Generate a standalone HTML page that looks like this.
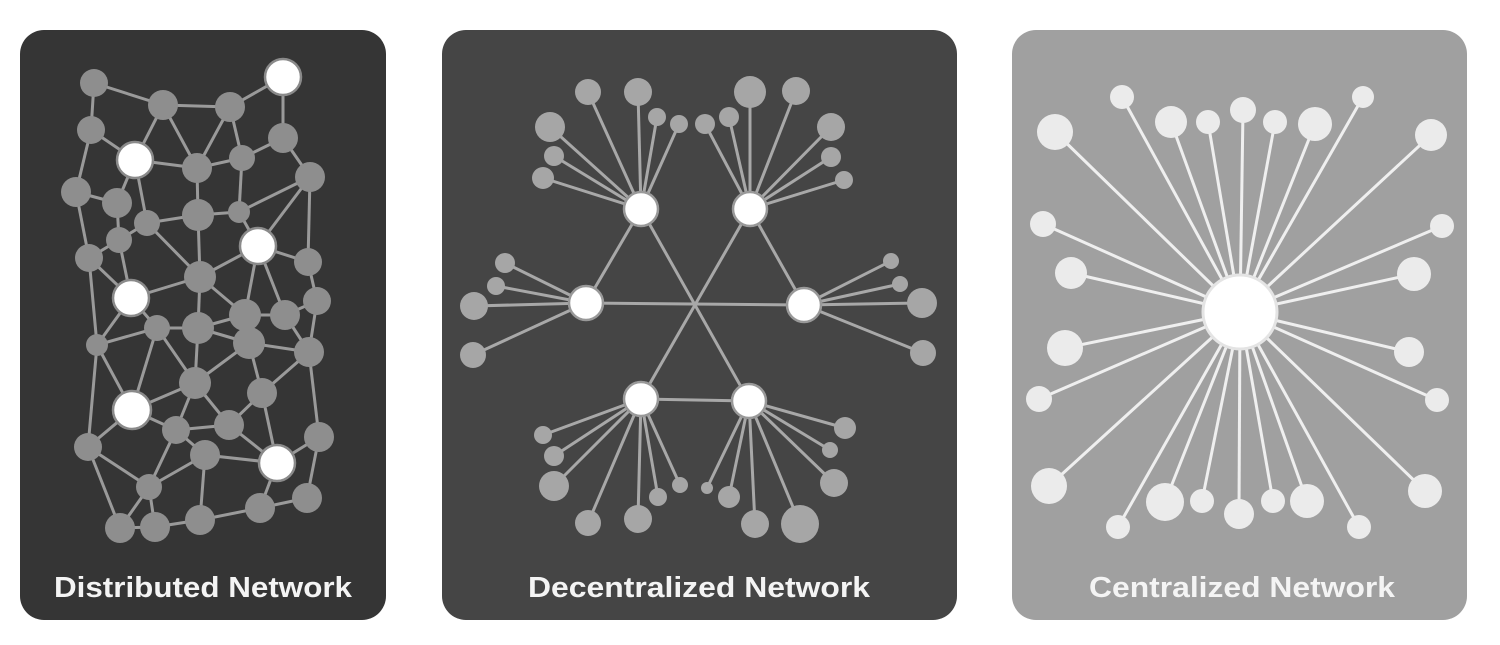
<!DOCTYPE html>
<html><head><meta charset="utf-8"><style>
html,body{margin:0;padding:0;background:#fff}
svg{display:block}
text{font-family:"Liberation Sans",sans-serif;font-weight:bold;fill:#f4f4f4}
</style></head><body>
<svg width="1500" height="645" viewBox="0 0 1500 645" xmlns="http://www.w3.org/2000/svg">
<rect width="1500" height="645" fill="#fff"/>
<rect x="20" y="30" width="366" height="590" rx="24" fill="#353535"/>
<rect x="442" y="30" width="515" height="590" rx="24" fill="#454545"/>
<rect x="1012" y="30" width="455" height="590" rx="24" fill="#a0a0a0"/>
<g stroke="#9a9a9a" stroke-width="3">
<line x1="94" y1="83" x2="163" y2="105"/><line x1="94" y1="83" x2="91" y2="130"/>
<line x1="163" y1="105" x2="230" y2="107"/><line x1="230" y1="107" x2="283" y2="77"/>
<line x1="283" y1="77" x2="283" y2="138"/><line x1="163" y1="105" x2="135" y2="160"/>
<line x1="163" y1="105" x2="197" y2="168"/><line x1="230" y1="107" x2="197" y2="168"/>
<line x1="230" y1="107" x2="242" y2="158"/><line x1="91" y1="130" x2="135" y2="160"/>
<line x1="91" y1="130" x2="76" y2="192"/><line x1="135" y1="160" x2="197" y2="168"/>
<line x1="197" y1="168" x2="242" y2="158"/><line x1="242" y1="158" x2="283" y2="138"/>
<line x1="283" y1="138" x2="310" y2="177"/><line x1="197" y1="168" x2="198" y2="215"/>
<line x1="242" y1="158" x2="239" y2="212"/><line x1="310" y1="177" x2="239" y2="212"/>
<line x1="310" y1="177" x2="258" y2="246"/><line x1="310" y1="177" x2="308" y2="262"/>
<line x1="135" y1="160" x2="147" y2="223"/><line x1="135" y1="160" x2="117" y2="203"/>
<line x1="76" y1="192" x2="117" y2="203"/><line x1="76" y1="192" x2="89" y2="258"/>
<line x1="117" y1="203" x2="119" y2="240"/><line x1="147" y1="223" x2="198" y2="215"/>
<line x1="147" y1="223" x2="200" y2="277"/><line x1="119" y1="240" x2="147" y2="223"/>
<line x1="119" y1="240" x2="89" y2="258"/><line x1="119" y1="240" x2="131" y2="298"/>
<line x1="198" y1="215" x2="200" y2="277"/><line x1="198" y1="215" x2="239" y2="212"/>
<line x1="239" y1="212" x2="258" y2="246"/><line x1="258" y1="246" x2="200" y2="277"/>
<line x1="258" y1="246" x2="308" y2="262"/><line x1="258" y1="246" x2="245" y2="315"/>
<line x1="258" y1="246" x2="285" y2="315"/><line x1="308" y1="262" x2="317" y2="301"/>
<line x1="89" y1="258" x2="131" y2="298"/><line x1="89" y1="258" x2="97" y2="345"/>
<line x1="131" y1="298" x2="200" y2="277"/><line x1="131" y1="298" x2="157" y2="328"/>
<line x1="131" y1="298" x2="97" y2="345"/><line x1="200" y1="277" x2="198" y2="328"/>
<line x1="200" y1="277" x2="245" y2="315"/><line x1="157" y1="328" x2="198" y2="328"/>
<line x1="97" y1="345" x2="157" y2="328"/><line x1="198" y1="328" x2="245" y2="315"/>
<line x1="198" y1="328" x2="249" y2="343"/><line x1="245" y1="315" x2="285" y2="315"/>
<line x1="285" y1="315" x2="317" y2="301"/><line x1="285" y1="315" x2="309" y2="352"/>
<line x1="249" y1="343" x2="309" y2="352"/><line x1="317" y1="301" x2="309" y2="352"/>
<line x1="157" y1="328" x2="132" y2="410"/><line x1="157" y1="328" x2="195" y2="383"/>
<line x1="97" y1="345" x2="88" y2="447"/><line x1="97" y1="345" x2="132" y2="410"/>
<line x1="198" y1="328" x2="195" y2="383"/><line x1="195" y1="383" x2="249" y2="343"/>
<line x1="249" y1="343" x2="262" y2="393"/><line x1="309" y1="352" x2="262" y2="393"/>
<line x1="309" y1="352" x2="319" y2="437"/><line x1="195" y1="383" x2="132" y2="410"/>
<line x1="195" y1="383" x2="176" y2="430"/><line x1="195" y1="383" x2="229" y2="425"/>
<line x1="132" y1="410" x2="88" y2="447"/><line x1="176" y1="430" x2="229" y2="425"/>
<line x1="176" y1="430" x2="149" y2="487"/><line x1="229" y1="425" x2="262" y2="393"/>
<line x1="229" y1="425" x2="277" y2="463"/><line x1="262" y1="393" x2="277" y2="463"/>
<line x1="205" y1="455" x2="176" y2="430"/><line x1="205" y1="455" x2="149" y2="487"/>
<line x1="205" y1="455" x2="277" y2="463"/><line x1="205" y1="455" x2="200" y2="520"/>
<line x1="277" y1="463" x2="319" y2="437"/><line x1="319" y1="437" x2="307" y2="498"/>
<line x1="307" y1="498" x2="260" y2="508"/><line x1="260" y1="508" x2="277" y2="463"/>
<line x1="88" y1="447" x2="149" y2="487"/><line x1="88" y1="447" x2="120" y2="528"/>
<line x1="149" y1="487" x2="120" y2="528"/><line x1="149" y1="487" x2="155" y2="527"/>
<line x1="155" y1="527" x2="200" y2="520"/><line x1="200" y1="520" x2="260" y2="508"/>
<line x1="120" y1="528" x2="155" y2="527"/><line x1="132" y1="410" x2="176" y2="430"/>
</g>
<g fill="#8e8e8e">
<circle cx="94" cy="83" r="14"/><circle cx="163" cy="105" r="15"/><circle cx="230" cy="107" r="15"/>
<circle cx="91" cy="130" r="14"/><circle cx="197" cy="168" r="15"/><circle cx="242" cy="158" r="13"/>
<circle cx="283" cy="138" r="15"/><circle cx="310" cy="177" r="15"/><circle cx="76" cy="192" r="15"/>
<circle cx="117" cy="203" r="15"/><circle cx="147" cy="223" r="13"/><circle cx="198" cy="215" r="16"/>
<circle cx="239" cy="212" r="11"/><circle cx="119" cy="240" r="13"/><circle cx="89" cy="258" r="14"/>
<circle cx="308" cy="262" r="14"/><circle cx="200" cy="277" r="16"/><circle cx="317" cy="301" r="14"/>
<circle cx="245" cy="315" r="16"/><circle cx="285" cy="315" r="15"/><circle cx="198" cy="328" r="16"/>
<circle cx="157" cy="328" r="13"/><circle cx="97" cy="345" r="11"/><circle cx="249" cy="343" r="16"/>
<circle cx="309" cy="352" r="15"/><circle cx="195" cy="383" r="16"/><circle cx="262" cy="393" r="15"/>
<circle cx="176" cy="430" r="14"/><circle cx="229" cy="425" r="15"/><circle cx="319" cy="437" r="15"/>
<circle cx="88" cy="447" r="14"/><circle cx="205" cy="455" r="15"/><circle cx="149" cy="487" r="13"/>
<circle cx="307" cy="498" r="15"/><circle cx="260" cy="508" r="15"/><circle cx="120" cy="528" r="15"/>
<circle cx="155" cy="527" r="15"/><circle cx="200" cy="520" r="15"/>
</g>
<g fill="#fff" stroke="#8a8a8a" stroke-width="2.5">
<circle cx="283" cy="77" r="18"/><circle cx="135" cy="160" r="18"/><circle cx="258" cy="246" r="18"/>
<circle cx="131" cy="298" r="18"/><circle cx="132" cy="410" r="19"/><circle cx="277" cy="463" r="18"/>
</g>
<text x="203" y="597" font-size="29" text-anchor="middle" textLength="298" lengthAdjust="spacingAndGlyphs">Distributed Network</text>
<g stroke="#a8a8a8" stroke-width="3">
<line x1="641" y1="209" x2="586" y2="303"/><line x1="641" y1="209" x2="749" y2="401"/>
<line x1="750" y1="209" x2="804" y2="305"/><line x1="750" y1="209" x2="641" y2="399"/>
<line x1="586" y1="303" x2="804" y2="305"/><line x1="641" y1="399" x2="749" y2="401"/>
<line x1="641" y1="209" x2="588" y2="92"/><line x1="641" y1="209" x2="638" y2="92"/>
<line x1="641" y1="209" x2="657" y2="117"/><line x1="641" y1="209" x2="679" y2="124"/>
<line x1="641" y1="209" x2="550" y2="127"/><line x1="641" y1="209" x2="554" y2="156"/>
<line x1="641" y1="209" x2="543" y2="178"/>
<line x1="750" y1="209" x2="750" y2="92"/><line x1="750" y1="209" x2="796" y2="91"/>
<line x1="750" y1="209" x2="705" y2="124"/><line x1="750" y1="209" x2="729" y2="117"/>
<line x1="750" y1="209" x2="831" y2="127"/><line x1="750" y1="209" x2="831" y2="157"/>
<line x1="750" y1="209" x2="844" y2="180"/>
<line x1="586" y1="303" x2="505" y2="263"/><line x1="586" y1="303" x2="496" y2="286"/>
<line x1="586" y1="303" x2="474" y2="306"/><line x1="586" y1="303" x2="473" y2="355"/>
<line x1="804" y1="305" x2="891" y2="261"/><line x1="804" y1="305" x2="900" y2="284"/>
<line x1="804" y1="305" x2="922" y2="303"/><line x1="804" y1="305" x2="923" y2="353"/>
<line x1="641" y1="399" x2="543" y2="435"/><line x1="641" y1="399" x2="554" y2="456"/>
<line x1="641" y1="399" x2="554" y2="486"/><line x1="641" y1="399" x2="588" y2="523"/>
<line x1="641" y1="399" x2="638" y2="519"/><line x1="641" y1="399" x2="658" y2="497"/>
<line x1="641" y1="399" x2="680" y2="485"/>
<line x1="749" y1="401" x2="845" y2="428"/><line x1="749" y1="401" x2="830" y2="450"/>
<line x1="749" y1="401" x2="834" y2="483"/><line x1="749" y1="401" x2="800" y2="524"/>
<line x1="749" y1="401" x2="755" y2="524"/><line x1="749" y1="401" x2="729" y2="497"/>
<line x1="749" y1="401" x2="707" y2="488"/>
</g>
<g fill="#a6a6a6">
<circle cx="588" cy="92" r="13"/><circle cx="638" cy="92" r="14"/><circle cx="657" cy="117" r="9"/>
<circle cx="679" cy="124" r="9"/><circle cx="550" cy="127" r="15"/><circle cx="554" cy="156" r="10"/>
<circle cx="543" cy="178" r="11"/>
<circle cx="750" cy="92" r="16"/><circle cx="796" cy="91" r="14"/><circle cx="705" cy="124" r="10"/>
<circle cx="729" cy="117" r="10"/><circle cx="831" cy="127" r="14"/><circle cx="831" cy="157" r="10"/>
<circle cx="844" cy="180" r="9"/>
<circle cx="505" cy="263" r="10"/><circle cx="496" cy="286" r="9"/><circle cx="474" cy="306" r="14"/>
<circle cx="473" cy="355" r="13"/>
<circle cx="891" cy="261" r="8"/><circle cx="900" cy="284" r="8"/><circle cx="922" cy="303" r="15"/>
<circle cx="923" cy="353" r="13"/>
<circle cx="543" cy="435" r="9"/><circle cx="554" cy="456" r="10"/><circle cx="554" cy="486" r="15"/>
<circle cx="588" cy="523" r="13"/><circle cx="638" cy="519" r="14"/><circle cx="658" cy="497" r="9"/>
<circle cx="680" cy="485" r="8"/>
<circle cx="845" cy="428" r="11"/><circle cx="830" cy="450" r="8"/><circle cx="834" cy="483" r="14"/>
<circle cx="800" cy="524" r="19"/><circle cx="755" cy="524" r="14"/><circle cx="729" cy="497" r="11"/>
<circle cx="707" cy="488" r="6"/>
</g>
<g fill="#fff" stroke="#999" stroke-width="2.5">
<circle cx="641" cy="209" r="17"/><circle cx="750" cy="209" r="17"/><circle cx="586" cy="303" r="17"/>
<circle cx="804" cy="305" r="17"/><circle cx="641" cy="399" r="17"/><circle cx="749" cy="401" r="17"/>
</g>
<text x="699" y="597" font-size="29" text-anchor="middle" textLength="342" lengthAdjust="spacingAndGlyphs">Decentralized Network</text>
<g stroke="#efefef" stroke-width="3">
<line x1="1240" y1="312" x2="1122" y2="97"/><line x1="1240" y1="312" x2="1171" y2="122"/>
<line x1="1240" y1="312" x2="1208" y2="122"/><line x1="1240" y1="312" x2="1243" y2="110"/>
<line x1="1240" y1="312" x2="1275" y2="122"/><line x1="1240" y1="312" x2="1315" y2="124"/>
<line x1="1240" y1="312" x2="1363" y2="97"/><line x1="1240" y1="312" x2="1055" y2="132"/>
<line x1="1240" y1="312" x2="1431" y2="135"/><line x1="1240" y1="312" x2="1043" y2="224"/>
<line x1="1240" y1="312" x2="1442" y2="226"/><line x1="1240" y1="312" x2="1071" y2="273"/>
<line x1="1240" y1="312" x2="1414" y2="274"/><line x1="1240" y1="312" x2="1065" y2="348"/>
<line x1="1240" y1="312" x2="1409" y2="352"/><line x1="1240" y1="312" x2="1039" y2="399"/>
<line x1="1240" y1="312" x2="1437" y2="400"/><line x1="1240" y1="312" x2="1049" y2="486"/>
<line x1="1240" y1="312" x2="1425" y2="491"/><line x1="1240" y1="312" x2="1118" y2="527"/>
<line x1="1240" y1="312" x2="1165" y2="502"/><line x1="1240" y1="312" x2="1202" y2="501"/>
<line x1="1240" y1="312" x2="1239" y2="514"/><line x1="1240" y1="312" x2="1273" y2="501"/>
<line x1="1240" y1="312" x2="1307" y2="501"/><line x1="1240" y1="312" x2="1359" y2="527"/>
</g>
<g fill="#ebebeb">
<circle cx="1122" cy="97" r="12"/><circle cx="1171" cy="122" r="16"/><circle cx="1208" cy="122" r="12"/>
<circle cx="1243" cy="110" r="13"/><circle cx="1275" cy="122" r="12"/><circle cx="1315" cy="124" r="17"/>
<circle cx="1363" cy="97" r="11"/><circle cx="1055" cy="132" r="18"/><circle cx="1431" cy="135" r="16"/>
<circle cx="1043" cy="224" r="13"/><circle cx="1442" cy="226" r="12"/><circle cx="1071" cy="273" r="16"/>
<circle cx="1414" cy="274" r="17"/><circle cx="1065" cy="348" r="18"/><circle cx="1409" cy="352" r="15"/>
<circle cx="1039" cy="399" r="13"/><circle cx="1437" cy="400" r="12"/><circle cx="1049" cy="486" r="18"/>
<circle cx="1425" cy="491" r="17"/><circle cx="1118" cy="527" r="12"/><circle cx="1165" cy="502" r="19"/>
<circle cx="1202" cy="501" r="12"/><circle cx="1239" cy="514" r="15"/><circle cx="1273" cy="501" r="12"/>
<circle cx="1307" cy="501" r="17"/><circle cx="1359" cy="527" r="12"/>
</g>
<circle cx="1240" cy="312" r="37" fill="#fff" stroke="#e4e4e4" stroke-width="3"/>
<text x="1242" y="597" font-size="29" text-anchor="middle" textLength="306" lengthAdjust="spacingAndGlyphs">Centralized Network</text>
</svg>
</body></html>
